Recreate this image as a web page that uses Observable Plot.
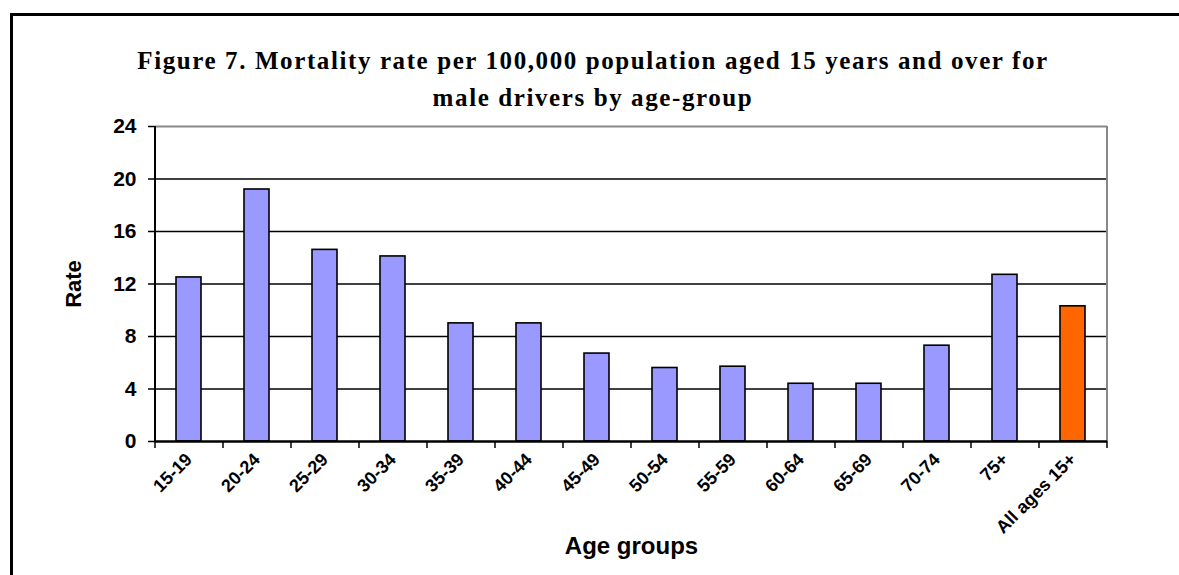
<!DOCTYPE html>
<html>
<head>
<meta charset="utf-8">
<script src="https://cdn.jsdelivr.net/npm/d3@7"></script>
<script src="https://cdn.jsdelivr.net/npm/@observablehq/plot@0.6"></script>
<style>
  html, body { margin: 0; padding: 0; background: #fff; }
  #wrap { position: relative; width: 1179px; height: 575px; overflow: hidden; }
  #border { position: absolute; left: 10px; top: 13px; width: 1200px; height: 600px; border: 3px solid #000; box-sizing: border-box; }
  #title { position: absolute; left: 93px; width: 1000px; top: 42px; text-align: center;
    font-family: "Liberation Serif", "Times New Roman", serif; font-weight: bold; font-size: 25px;
    line-height: 37px; letter-spacing: 1.6px; color: #000; }
  #chart { position: absolute; left: 0; top: 0; }
</style>
</head>
<body>
<div id="wrap">
  <div id="border"></div>
  <div id="title">Figure 7. Mortality rate per 100,000 population aged 15 years and over for<br>male drivers by age-group</div>
  <div id="chart"></div>
</div>
<script>
const categories = ["15-19","20-24","25-29","30-34","35-39","40-44","45-49","50-54","55-59","60-64","65-69","70-74","75+","All ages 15+"];
const rates = [12.5, 19.2, 14.6, 14.1, 9.0, 9.0, 6.7, 5.6, 5.7, 4.4, 4.4, 7.3, 12.7, 10.3];
const yTicks = [0, 4, 8, 12, 16, 20, 24];
const highlight = "All ages 15+";

const data = categories.map((c, i) => ({category: c, rate: rates[i]}));

const W = 1179, H = 575;
const mL = 155, mR = 72, mT = 126, mB = 134;
const step = (W - mL - mR) / categories.length;
const last = categories[categories.length - 1];
const font = "'Liberation Sans', Arial, sans-serif";

const chart = Plot.plot({
  width: W,
  height: H,
  marginLeft: mL,
  marginRight: mR,
  marginTop: mT,
  marginBottom: mB,
  style: {fontFamily: font, fontWeight: "bold", background: "transparent", overflow: "visible"},
  x: {type: "band", domain: categories, paddingInner: 0.63, paddingOuter: 0.315, align: 0.5},
  y: {domain: [0, 24], ticks: yTicks},
  marks: [
    Plot.ruleY(yTicks.filter(d => d > 0 && d < 24), {stroke: "#000", strokeWidth: 1.6}),
    Plot.ruleY([24], {stroke: "#888", strokeWidth: 2}),
    Plot.ruleX([last], {dx: step / 2, y1: 0, y2: 24, stroke: "#888", strokeWidth: 2}),
    Plot.barY(data, {
      x: "category", y: "rate",
      fill: d => d.category === highlight ? "#FF6600" : "#9999FF",
      stroke: "#000", strokeWidth: 1.6
    }),
    Plot.axisY({
      ticks: yTicks, tickSize: 7, tickPadding: 12, fontSize: 21, fontWeight: "bold",
      stroke: "#000", strokeWidth: 1.5,
      label: "Rate", labelAnchor: "center", labelArrow: "none", labelOffset: 90
    }),
    Plot.ruleX([categories[0]], {dx: -step / 2, y1: 0, y2: 24, stroke: "#000", strokeWidth: 2}),
    Plot.ruleY([0], {stroke: "#000", strokeWidth: 2.5}),
    Plot.axisX(categories, {tickSize: 7, tickFormat: () => "", dx: -step / 2, stroke: "#000", strokeWidth: 1.5, label: null}),
    Plot.axisX([last], {tickSize: 7, tickFormat: () => "", dx: step / 2, stroke: "#000", strokeWidth: 1.5, label: null}),
    Plot.axisX({
      tickSize: 0, tickPadding: 15, tickRotate: -45, fontSize: 18, fontWeight: "bold",
      label: "Age groups", labelAnchor: "center", labelArrow: "none", labelOffset: 112
    })
  ]
});

chart.querySelectorAll("g[aria-label='y-axis label'] text").forEach(t => t.setAttribute("font-size", "22"));
chart.querySelectorAll("g[aria-label='x-axis label'] text").forEach(t => t.setAttribute("font-size", "24"));
document.getElementById("chart").appendChild(chart);
</script>
</body>
</html>
